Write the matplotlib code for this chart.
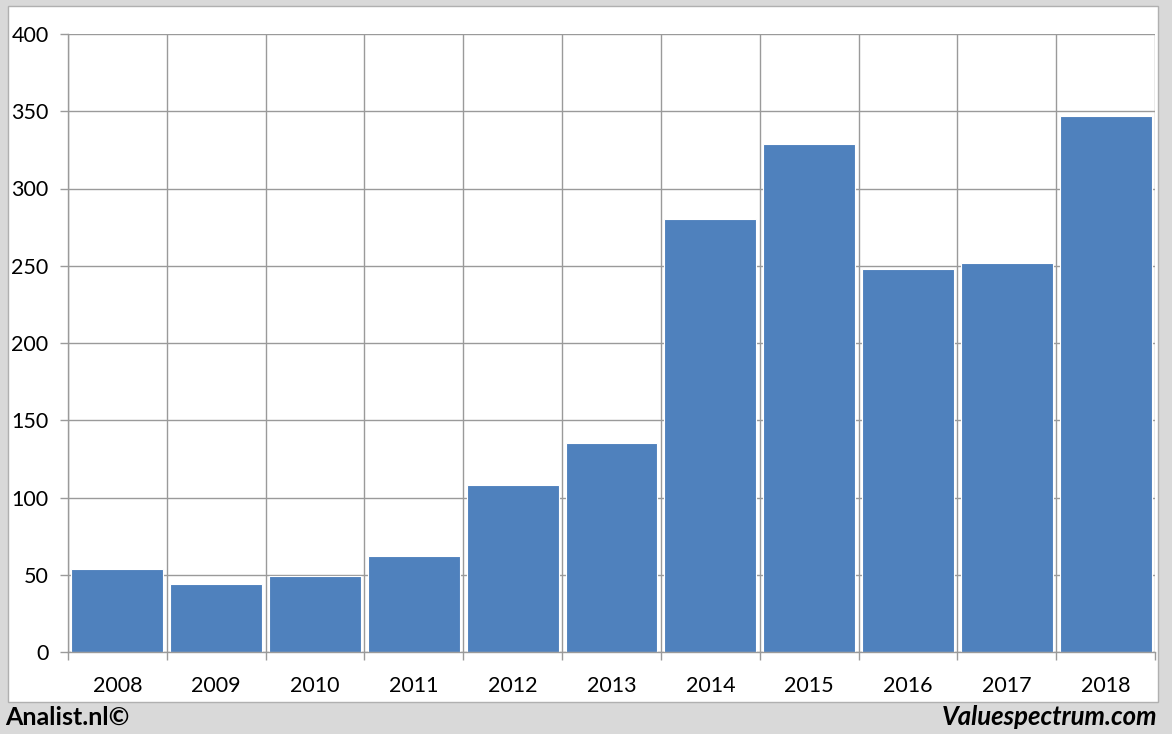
import matplotlib
matplotlib.use("Agg")
import matplotlib.pyplot as plt
from matplotlib.patches import Rectangle
from matplotlib.ticker import FixedLocator

years = ["2008", "2009", "2010", "2011", "2012", "2013", "2014", "2015", "2016", "2017", "2018"]
values = [54, 44, 49, 62, 108, 135, 280, 329, 248, 252, 347]
y_ticks = [0, 50, 100, 150, 200, 250, 300, 350, 400]

W, H = 1172, 734
fig = plt.figure(figsize=(W / 100, H / 100), dpi=100, facecolor="#d9d9d9")
fig.patches.append(Rectangle((8 / W, 1 - 702 / H), (1158 - 8) / W, (702 - 6) / H,
                             transform=fig.transFigure, facecolor="white",
                             edgecolor="#b0b0b0", linewidth=1, zorder=-10))

ax = fig.add_axes([68 / W, 1 - 652 / H, 1087 / W, 618 / H])
ax.set_zorder(5)
ax.set_facecolor("none")
x = list(range(len(years)))
ax.bar(x, values, width=0.93, color="#4f81bd", edgecolor="white", linewidth=0.8, zorder=2)

ax.set_xlim(-0.5, len(years) - 0.5)
ax.set_ylim(0, 400)
ax.set_xticks(x)
ax.set_xticklabels(years)
ax.xaxis.set_minor_locator(FixedLocator([i - 0.5 for i in range(len(years) + 1)]))
ax.set_yticks(y_ticks)

gc = "#9a9a9a"
ax.grid(False)
ax.grid(True, which="minor", axis="x", color=gc, linewidth=1, zorder=0)
ax.grid(True, which="major", axis="y", color=gc, linewidth=1, zorder=0)
ax.set_axisbelow(True)
for s in ["top", "right"]:
    ax.spines[s].set_visible(False)
for s in ["left", "bottom"]:
    ax.spines[s].set_color(gc)
    ax.spines[s].set_linewidth(1)

font = "Lato"
ax.tick_params(axis="x", which="major", length=0, pad=17, labelsize=15.5, labelcolor="black")
ax.tick_params(axis="x", which="minor", length=6, color=gc, width=1)
ax.tick_params(axis="y", which="major", length=6, color=gc, width=1, pad=8, labelsize=15.5)
for lab in ax.get_xticklabels() + ax.get_yticklabels():
    lab.set_fontfamily(font)

fig.text(5 / W, 1 - 717 / H, "Analist.nl©", fontsize=18, fontweight="bold",
         family=font, ha="left", va="center", zorder=10)
fig.text(1157 / W, 1 - 717 / H, "Valuespectrum.com", fontsize=18.5, fontweight="bold",
         style="italic", family=font, ha="right", va="center", zorder=10)

fig.savefig("out.png", dpi=100, facecolor=fig.get_facecolor())
